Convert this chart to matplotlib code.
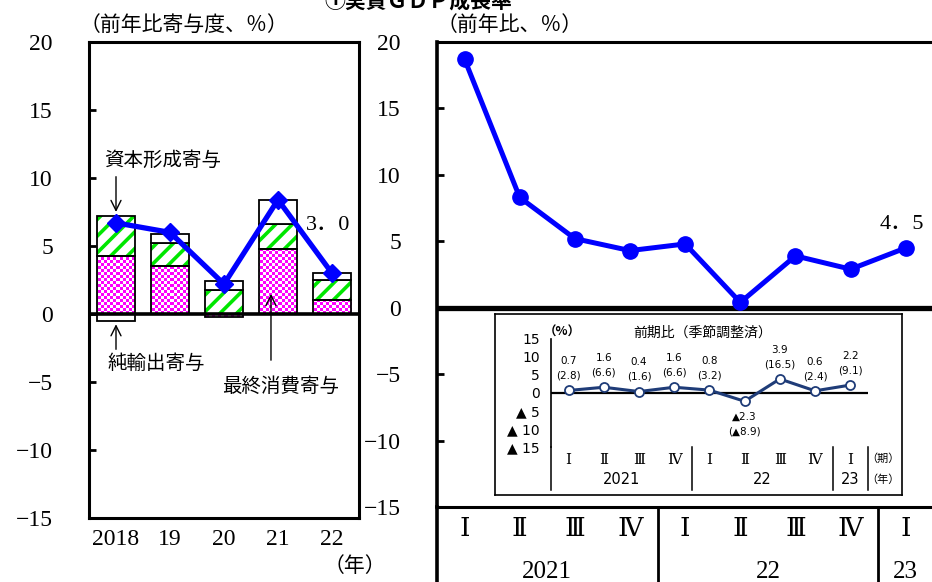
import numpy as np
import matplotlib
matplotlib.use('Agg')
import matplotlib.pyplot as plt
from matplotlib.lines import Line2D

# ---------------- data ----------------
years = ['2018', '19', '20', '21', '22']
consumption = [4.3, 3.5, -0.2, 4.8, 1.0]
capital = [2.9, 1.7, 1.8, 1.8, 1.5]
net_exports = [-0.5, 0.7, 0.6, 1.8, 0.5]
gdp_annual = [6.7, 6.0, 2.2, 8.4, 3.0]

quarters = ['Ⅰ', 'Ⅱ', 'Ⅲ', 'Ⅳ', 'Ⅰ', 'Ⅱ', 'Ⅲ', 'Ⅳ', 'Ⅰ']
quarter_years = ['2021', '22', '23']
year_groups = [(0, 3), (4, 7), (8, 8)]
gdp_yoy = [18.7, 8.3, 5.2, 4.3, 4.8, 0.4, 3.9, 2.9, 4.5]
gdp_qoq = [0.7, 1.6, 0.4, 1.6, 0.8, -2.3, 3.9, 0.6, 2.2]
gdp_qoq_ann = [2.8, 6.6, 1.6, 6.6, 3.2, -8.9, 16.5, 2.4, 9.1]

left_yticks = [20, 15, 10, 5, 0, -5, -10, -15]

# ---------------- style ----------------
JP = 'Noto Sans CJK JP'
SERIF = ['Liberation Serif', 'DejaVu Serif', JP]
plt.rcParams['font.family'] = ['DejaVu Sans', JP]
plt.rcParams['hatch.linewidth'] = 2.6
BLUE = '#0000FF'
W, H = 932, 582

fig = plt.figure(figsize=(W / 100, H / 100), dpi=100)


def fbox(x0, y0, x1, y1):
    return [x0 / W, 1 - y1 / H, (x1 - x0) / W, (y1 - y0) / H]


def fmt_num(v):
    s = f'{abs(v):.1f}'
    return ('▲' + s) if v < 0 else s


def num_label(v):
    return '−' + str(abs(v)) if v < 0 else str(v)

# ---------------- left panel ----------------
ax1 = fig.add_axes(fbox(89, 42, 359, 518))
ax1.set_xlim(-0.5, 4.5)
ax1.set_ylim(-15, 20)
x = np.arange(len(years))
bw = 0.72

pos_base = np.zeros(len(years))
neg_base = np.zeros(len(years))


def stack(vals):
    vals = np.array(vals, dtype=float)
    bottoms = np.where(vals >= 0, pos_base, neg_base)
    pos_base[:] = np.where(vals >= 0, pos_base + vals, pos_base)
    neg_base[:] = np.where(vals < 0, neg_base + vals, neg_base)
    return vals, bottoms

c_vals, c_bot = stack(consumption)
k_vals, k_bot = stack(capital)
n_vals, n_bot = stack(net_exports)

# consumption: magenta checkerboard clipped to each bar
cons_bars = ax1.bar(x, c_vals, bw, bottom=c_bot, facecolor='none',
                    edgecolor='black', linewidth=1.3, zorder=3)
nx, ny = 90, 159
cb = (np.add.outer(np.arange(ny), np.arange(nx)) % 2).astype(float)
img = np.ones((ny, nx, 3))
img[cb == 0] = [1.0, 0.0, 1.0]
for p in cons_bars:
    im = ax1.imshow(img, extent=(-0.5, 4.5, -15, 20), aspect='auto',
                    interpolation='nearest', zorder=2)
    im.set_clip_path(p)

# capital: green diagonal stripes
ax1.bar(x, k_vals, bw, bottom=k_bot, facecolor='white', edgecolor='#00E600',
        hatch='//', linewidth=0, zorder=2)
ax1.bar(x, k_vals, bw, bottom=k_bot, facecolor='none', edgecolor='black',
        linewidth=1.3, zorder=3)
# net exports: white box
ax1.bar(x, n_vals, bw, bottom=n_bot, facecolor='white', edgecolor='black',
        linewidth=1.3, zorder=3)

ax1.axhline(0, color='black', lw=2.6, zorder=4)
ax1.plot(x, gdp_annual, color=BLUE, lw=3.8, marker='D', ms=9.5, zorder=6)
ax1.annotate('3．0', xy=(x[-1], gdp_annual[-1]), xytext=(-3, 34),
             textcoords='offset points', ha='center', va='center',
             fontsize=16, family=SERIF)

for s in ax1.spines.values():
    s.set_linewidth(2.2)
ax1.set_yticks(left_yticks, [num_label(v) for v in left_yticks])
ax1.tick_params(axis='y', direction='in', length=5, width=2, pad=26,
                labelsize=17)
for t in ax1.get_yticklabels():
    t.set_fontfamily(SERIF)
ax1.set_xticks(x, years)
ax1.tick_params(axis='x', length=0, pad=8, labelsize=17)
for t in ax1.get_xticklabels():
    t.set_fontfamily(SERIF)

# annotations
ax1.annotate('', xy=(0, c_vals[0] + k_vals[0] + 0.1), xytext=(0, 10.3),
             arrowprops=dict(arrowstyle='->', lw=1, color='black',
                             mutation_scale=18), zorder=7)
ax1.text(0.86, 11.3, '資本形成寄与', ha='center', va='center', fontsize=14,
         family=JP)
ax1.annotate('', xy=(0, n_vals[0] - 0.05), xytext=(0, -2.8),
             arrowprops=dict(arrowstyle='->', lw=1, color='black',
                             mutation_scale=18), zorder=7)
ax1.text(0.74, -3.6, '純輸出寄与', ha='center', va='center', fontsize=14,
         family=JP)
ax1.annotate('', xy=(2.87, c_vals[3] * 0.35), xytext=(2.87, -3.6),
             arrowprops=dict(arrowstyle='->', lw=1, color='black',
                             mutation_scale=18), zorder=7)
ax1.text(3.04, -5.3, '最終消費寄与', ha='center', va='center', fontsize=14,
         family=JP)

fig.text(80 / W, 1 - 25 / H, '（前年比寄与度、％）', ha='left', va='center',
         fontsize=15, family=JP)
fig.text(355 / W, 1 - 566 / H, '（年）', ha='center', va='center',
         fontsize=15, family=JP)

# ---------------- right panel ----------------
ax2 = fig.add_axes(fbox(437, 42, 437 + 9 * 55.15, 507))
xq = np.arange(len(quarters))
ax2.set_xlim(-0.5, 8.5)
ax2.set_ylim(-15, 20)
ax2.spines['right'].set_visible(False)
ax2.spines['left'].set_linewidth(2.6)
ax2.spines['top'].set_linewidth(2.2)
ax2.spines['bottom'].set_linewidth(2.2)
ax2.axhline(0, color='black', lw=3.8, zorder=3)
ax2.plot(xq, gdp_yoy, color=BLUE, lw=3.6, marker='o', ms=11, zorder=5,
         clip_on=False)
ax2.annotate('4．5', xy=(xq[-1], gdp_yoy[-1]), xytext=(-3, 17),
             textcoords='offset points', ha='center', va='center',
             fontsize=16, family=SERIF)
ax2.set_yticks(left_yticks, [num_label(v) for v in left_yticks])
ax2.tick_params(axis='y', direction='in', length=5, width=2, pad=26,
                labelsize=17)
for t in ax2.get_yticklabels():
    t.set_fontfamily(SERIF)
ax2.set_xticks(xq, quarters)
ax2.tick_params(axis='x', length=0, pad=9, labelsize=19)
for t in ax2.get_xticklabels():
    t.set_fontfamily(SERIF)

trans2 = ax2.get_xaxis_transform()
yb = -(582 - 507) / 465
for xs in [-0.5, 3.5, 7.5]:
    ax2.add_line(Line2D([xs, xs], [0, yb * 1.05], transform=trans2,
                        color='black', lw=2 if xs != -0.5 else 2.6,
                        clip_on=False))
for lab, (a, b) in zip(quarter_years, year_groups):
    ax2.text((a + b) / 2, -(572 - 507) / 465, lab, transform=trans2,
             ha='center', va='center', fontsize=18, family=SERIF)
fig.text(437 / W, 1 - 25 / H, '（前年比、％）', ha='left', va='center',
         fontsize=15, family=JP)

# title (cut at the top in the reference)
fig.text(418 / W, 1 - 8 / H, '①実質ＧＤＰ成長率', ha='center', va='baseline',
         fontsize=15, fontweight='bold', family=JP)

# ---------------- inset ----------------
axb = fig.add_axes(fbox(495, 314, 902, 495))
axb.set_xticks([])
axb.set_yticks([])
for s in axb.spines.values():
    s.set_linewidth(1.2)
axb.set_zorder(10)

ax3 = fig.add_axes(fbox(551, 339, 551 + 9 * 35.2, 447))
ax3.set_zorder(11)
ax3.patch.set_alpha(0)
ax3.set_xlim(-0.5, 8.5)
ax3.set_ylim(-15, 15)
for k in ['top', 'right', 'bottom']:
    ax3.spines[k].set_visible(False)
ax3.spines['left'].set_linewidth(1.2)
ax3.axhline(0, color='black', lw=1.6, zorder=2)
ax3.plot(xq, gdp_qoq, color='#1F3C78', lw=2.2, marker='o', ms=6.5,
         markerfacecolor='white', markeredgecolor='#1F3C78',
         markeredgewidth=1.3, zorder=4)
for xi, v, va_ in zip(xq, gdp_qoq, gdp_qoq_ann):
    if v >= 0:
        ax3.annotate(fmt_num(v), xy=(xi, v), xytext=(0, 21),
                     textcoords='offset points', ha='center', va='center',
                     fontsize=7.5, family=['DejaVu Sans', JP])
        ax3.annotate('(' + fmt_num(va_) + ')', xy=(xi, v), xytext=(0, 10.5),
                     textcoords='offset points', ha='center', va='center',
                     fontsize=7.5, family=['DejaVu Sans', JP])
    else:
        ax3.annotate(fmt_num(v), xy=(xi, v), xytext=(0, -11),
                     textcoords='offset points', ha='center', va='center',
                     fontsize=7.5, family=['DejaVu Sans', JP])
        ax3.annotate('(' + fmt_num(va_) + ')', xy=(xi, v), xytext=(0, -22),
                     textcoords='offset points', ha='center', va='center',
                     fontsize=7.5, family=['DejaVu Sans', JP])

inset_ticks = [15, 10, 5, 0, -5, -10, -15]
ax3.set_yticks(inset_ticks,
               [('▲ ' + str(abs(v))) if v < 0 else str(v) for v in inset_ticks])
ax3.tick_params(axis='y', length=0, pad=8, labelsize=10)
for t in ax3.get_yticklabels():
    t.set_fontfamily(['DejaVu Sans', JP])
ax3.set_xticks(xq, quarters)
ax3.tick_params(axis='x', length=0, pad=5, labelsize=11)
for t in ax3.get_xticklabels():
    t.set_fontfamily(SERIF)

trans3 = ax3.get_xaxis_transform()
yb3 = -(490 - 447) / 108
for xs in [-0.5, 3.5, 7.5, 8.5]:
    ax3.add_line(Line2D([xs, xs], [0, yb3], transform=trans3, color='black',
                        lw=1.1, clip_on=False))
for lab, (a, b) in zip(quarter_years, year_groups):
    ax3.text((a + b) / 2, -(480 - 447) / 108, lab, transform=trans3,
             ha='center', va='center', fontsize=10.5, family=['DejaVu Sans', JP])
fig.text(883 / W, 1 - 459 / H, '（期）', ha='center', va='center',
         fontsize=8, family=JP, zorder=12)
fig.text(883 / W, 1 - 480 / H, '（年）', ha='center', va='center',
         fontsize=8, family=JP, zorder=12)
fig.text(703 / W, 1 - 333 / H, '前期比（季節調整済）', ha='center',
         va='center', fontsize=10, family=JP, zorder=12)
fig.text(562 / W, 1 - 332 / H, '（%）', ha='center', va='center',
         fontsize=9, fontweight='bold', family=JP, zorder=12)

fig.savefig('out.png', dpi=100)
